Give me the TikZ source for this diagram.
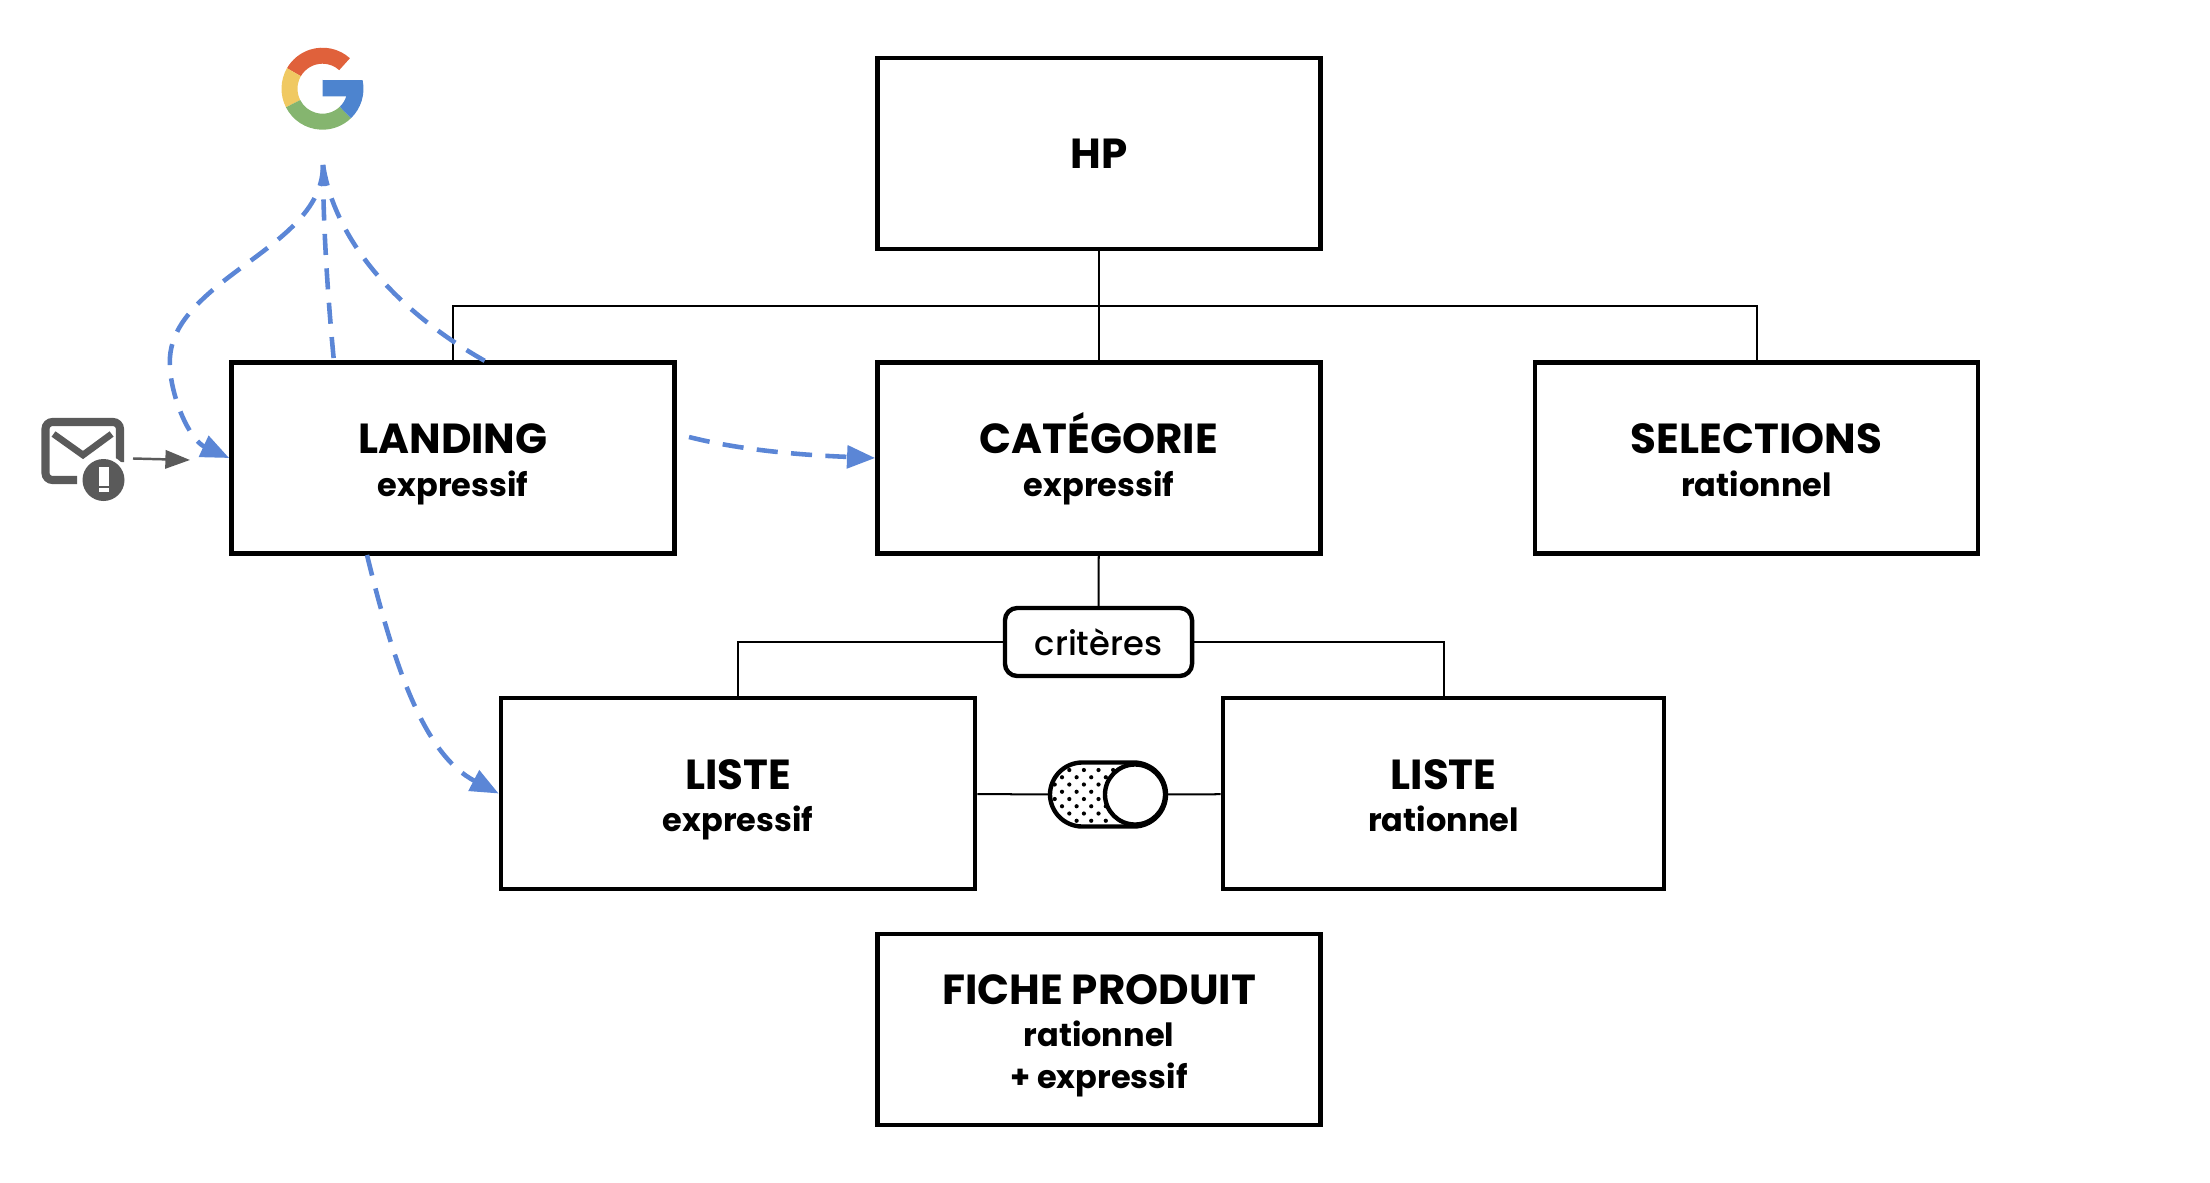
\documentclass[tikz,border=0pt]{standalone}
\usepackage{fontspec}
\setmainfont{Poppins}
\newfontfamily\mediumfont{Poppins Medium}
\usetikzlibrary{arrows.meta}
\definecolor{flowblue}{HTML}{5B86D6}
\definecolor{mailgrey}{HTML}{5A5A5A}
\definecolor{gred}{HTML}{E0613B}
\definecolor{gyellow}{HTML}{F0C962}
\definecolor{ggreen}{HTML}{85B56F}
\definecolor{gblue}{HTML}{4D84CF}
\newcommand{\titlefont}{\fontsize{11.95}{10.5}\selectfont\bfseries}
\newcommand{\subfont}{\fontsize{9.1}{11.1}\selectfont\bfseries}
\newcommand{\boxtext}[2]{\lineskiplimit=-20pt \titlefont\rule{0pt}{13.7pt}#1\\\subfont #2\rule[-4pt]{0pt}{4pt}}
\newcommand{\gsector}[3]{\fill[#1] (#2:41) arc (#2:#3:41) -- (#3:25) arc (#3:#2:25) -- cycle;}
\tikzset{
	pagebox/.style={draw, line width=1.25pt, minimum width=4.43cm, minimum height=1.91cm, align=center, inner sep=0pt},
	link/.style={line width=0.57pt},
	flow/.style={draw=flowblue, line width=1.3pt, dash pattern=on 6pt off 3.8pt},
	flowtip/.style={flow, -{Triangle[length=8pt, width=6.4pt, fill=flowblue]}}
}
\begin{document}
\begin{tikzpicture}[x=0.01cm, y=-0.01cm]
	  \useasboundingbox (0,0) rectangle (2210,1182);
	  \node [pagebox] (hp) at (1099,153.5) {\titlefont HP};
	  \node [pagebox] (landing) at (453,458) {\boxtext{LANDING}{expressif}};
	  \node [pagebox] (categorie) at (1099,458) {\boxtext{CATÉGORIE}{expressif}};
	  \node [pagebox] (selections) at (1756.5,458) {\boxtext{SELECTIONS}{rationnel}};
	  \node [pagebox, minimum width=4.74cm] (listeexp) at (738,793.5) {\boxtext{LISTE}{expressif}};
	  \node [pagebox, minimum width=4.41cm] (listerat) at (1443.5,793.5) {\boxtext{LISTE}{rationnel}};
	  \node [pagebox] (fiche) at (1099,1029.5) {\boxtext{FICHE PRODUIT}{rationnel\\\subfont + expressif}};
	  \node [draw, line width=1.25pt, rounded corners=3.5pt, minimum width=1.87cm, minimum height=0.68cm, inner sep=0pt, font=\fontsize{9.6}{11}\mediumfont] (criteres) at (1098.5,642) {critères\hspace{1.4pt}};
	  % trunk
	  \coordinate (trunk) at (1099,306);
	  \draw [link] (hp) -- (categorie);
	  \draw [link] (landing.north) |- (trunk) -| (selections.north);
	  \draw [link] (categorie) -- (criteres);
	  \draw [link] (criteres.west) -| (listeexp.north);
	  \draw [link] (criteres.east) -| (listerat.north);
	  % toggle
	  \begin{scope}
	  \clip [rounded corners=9.2pt] (1049,762) rectangle (1167,827);
	  \foreach \row in {0,...,7}
	  \foreach \col in {0,...,12}
	  {\pgfmathparse{int(mod(\row+\col,2))}
	  \ifnum\pgfmathresult=0
	  \fill (1054.7+7.3*\col,770+7.25*\row) circle (2.1);
	  \fi}
	  \end{scope}
	  \node [draw, line width=1.25pt, rounded corners=9.2pt, minimum width=1.16cm, minimum height=0.64cm, inner sep=0pt] (toggle) at (1108,794.5) {};
	  \node [draw, fill=white, circle, line width=1.25pt, minimum size=0.60cm, inner sep=0pt] (knob) at (1135,794.5) {};
	  \draw [link] (listeexp) -- (toggle);
	  \draw [link] (knob) -- (listerat);
	  % G logo
	  \begin{scope}[shift={(322.5,88.7)}, yscale=-1]
	  \gsector{gred}{48}{150}
	  \gsector{gyellow}{150}{207}
	  \gsector{ggreen}{207}{314}
	  \fill [gblue] (-46:41) arc (-46:12:41) -- (0,8.7) -- (0,-7.8) -- (23.7,-7.8) arc (-18:-46:25) -- cycle;
	  \end{scope}
	  % mail icon
	  \draw [mailgrey, line width=2.3pt, rounded corners=2pt] (77,480) -- (45.5,480) -- (45.5,422) -- (120,422) -- (120,462);
	  \draw [mailgrey, line width=1.9pt] (53.5,434) -- (83,455) -- (111.6,434);
	  \fill [white] (103.5,480) circle (25);
	  \fill [mailgrey] (103.5,480) circle (21);
	  \fill [white] (99,467) rectangle (108.5,486);
	  \fill [white] (99,488) rectangle (108.5,492);
	  \coordinate (mailout) at (133,458.5);
	  \coordinate (mailend) at (190,460);
	  \draw [mailgrey, line width=0.7pt, -{Triangle[length=7pt, width=5.2pt]}] (mailout) -- (mailend);
	  % blue paths
	  \coordinate (google) at (323,165);
	  \coordinate (midend) at (334,362);
	  \coordinate (rightend) at (485,361);
	  \coordinate (landout) at (689,437);
	  \coordinate (landlow) at (367,555);
	  \draw [flowtip] (google) .. controls (323,215) and (270,245) .. (225,280) .. controls (180,315) and (168,340) .. (170,368) .. controls (172,400) and (190,440) .. (landing.west);
	  \draw [flow] (google) .. controls (323,225) and (328,300) .. (midend);
	  \draw [flow] (google) .. controls (335,240) and (395,310) .. (rightend);
	  \draw [flowtip] (landout) .. controls (740,450) and (800,455) .. (categorie.west);
	  \draw [flowtip] (landlow) .. controls (395,670) and (425,755) .. (listeexp.west);
	 \end{tikzpicture}
\end{document}
